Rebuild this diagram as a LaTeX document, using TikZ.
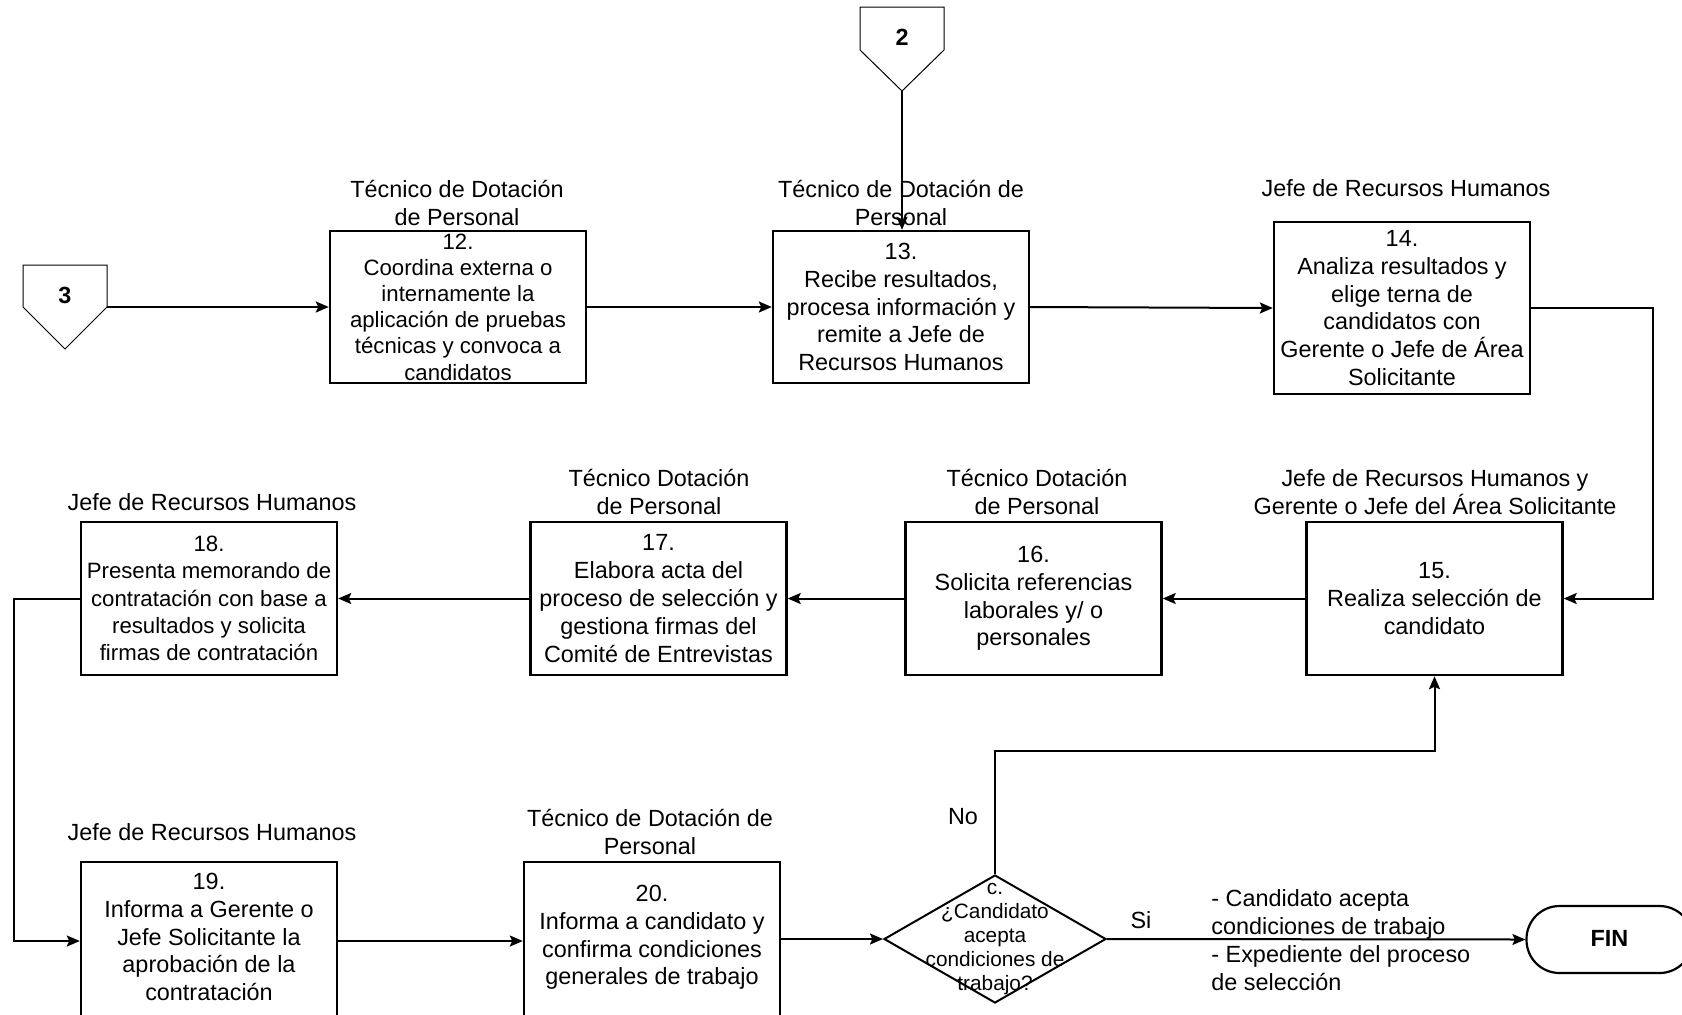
\documentclass[tikz,border=0pt]{standalone}
\usepackage{fontspec}
\setmainfont{Liberation Sans}
\usetikzlibrary{shapes.geometric,arrows.meta,calc}
\begin{document}
\begin{tikzpicture}[x=0.5pt,y=-0.5pt,
  box/.style={draw,line width=1.2pt,minimum width=128pt,minimum height=76.5pt,inner sep=0pt,align=center,
    font=\fontsize{11.7}{13.9}\selectfont},
  boxtext/.style={align=center,inner sep=0pt,font=\fontsize{11.7}{13.9}\selectfont},
  ttl/.style={align=center,inner sep=0pt,font=\fontsize{11.7}{13.9}\selectfont},
  lbl/.style={inner sep=0pt,font=\fontsize{11.7}{13.9}\selectfont},
  conn/.style={draw,line width=0.5pt},
  arr/.style={line width=1pt,-{Stealth[length=6.5pt,width=5.5pt,inset=1.2pt]}},
]
\useasboundingbox (0,0) rectangle (1682,1014);
\clip (0,0) rectangle (1682,1014);

% off-page connectors
\draw[conn] (860,7) -- (944,7) -- (944,50) -- (902,91) -- (860,50) -- cycle;
\node[lbl,font=\fontsize{11.7}{13.9}\selectfont\bfseries] (c2) at (902,37) {2};
\coordinate (c2tip) at (902,91);
\draw[conn] (23,265) -- (107,265) -- (107,307) -- (65,349) -- (23,307) -- cycle;
\node[lbl,font=\fontsize{11.7}{13.9}\selectfont\bfseries] (c3) at (65,295) {3};
\coordinate (c3r) at (107,307);

% titles
\node[ttl] (t12) at (457,203) {Técnico de Dotación\\de Personal};
\node[ttl] (t13) at (901,203) {Técnico de Dotación de\\Personal};
\node[ttl] (t14) at (1406,188) {Jefe de Recursos Humanos};
\node[ttl] (t15) at (1435,492) {Jefe de Recursos Humanos y\\Gerente o Jefe del Área Solicitante};
\node[ttl] (t16) at (1037,492) {Técnico Dotación\\de Personal};
\node[ttl] (t17) at (659,492) {Técnico Dotación\\de Personal};
\node[ttl] (t18) at (212,502) {Jefe de Recursos Humanos};
\node[ttl] (t19) at (212,832) {Jefe de Recursos Humanos};
\node[ttl] (t20) at (650,832) {Técnico de Dotación de\\Personal};

% boxes
\node[box,minimum height=76pt,font=\fontsize{11.1}{13.1}\selectfont] (b12) at (458,307) {12.\\Coordina externa o\\internamente la\\aplicación de pruebas\\técnicas y convoca a\\candidatos};
\node[box,minimum height=76pt] (b13) at (901,307) {13.\\Recibe resultados,\\procesa información y\\remite a Jefe de\\Recursos Humanos};
\node[box,minimum height=86pt] (b14) at (1402,308) {14.\\Analiza resultados y\\elige terna de\\candidatos con\\Gerente o Jefe de Área\\Solicitante};
\node[box] (b15) at (1434.5,598.5) {15.\\Realiza selección de\\candidato};
\node[box] (b16) at (1033.5,598.5) {16.\\Solicita referencias\\laborales y/ o\\personales};
\node[box] (b17) at (658.5,598.5) {17.\\Elabora acta del\\proceso de selección y\\gestiona firmas del\\Comité de Entrevistas};
\node[box,font=\fontsize{11.1}{13.6}\selectfont] (b18) at (209,598.5) {18.\\Presenta memorando de\\contratación con base a\\resultados y solicita\\firmas de contratación};
\node[box,minimum height=79pt] (b19) at (209,941) {};
\node[boxtext] (b19t) at (209,937) {19.\\Informa a Gerente o\\Jefe Solicitante la\\aprobación de la\\contratación};
\node[box,minimum height=79pt] (b20) at (652,941) {};
\node[boxtext] (b20t) at (652,937.5) {20.\\Informa a candidato y\\confirma condiciones\\generales de trabajo};

% decision
\node[draw,line width=1pt,shape=diamond,minimum width=111pt,minimum height=64pt,inner sep=0pt] (dia) at (995,939) {};
\node[align=center,inner sep=0pt,font=\fontsize{10.4}{12}\selectfont] (diat) at (995,939) {c.\\¿Candidato\\acepta\\condiciones de\\trabajo?};

% end
\node[draw,line width=1.1pt,rounded corners=16.5pt,minimum width=83pt,minimum height=33.5pt,inner sep=0pt,
  font=\fontsize{11.7}{13.9}\selectfont\bfseries] (fin) at (1609.5,939.5) {\raisebox{1.2pt}{FIN}};

% labels
\node[lbl] (no) at (963,817) {No};
\node[lbl] (si) at (1141,920) {Si};
\node[lbl,anchor=west,align=left] (out) at (1211,940) {- Candidato acepta\\condiciones de trabajo\\- Expediente del proceso\\de selección};

% connectors
\coordinate (r1) at (1653,308);
\coordinate (l1) at (14,598.5);
\coordinate (n1) at (995,751);
\draw[arr] (c3r) -- (b12.west |- c3r);
\draw[arr] (b12.east) -- (b13.west);
\draw[arr] (b13.east) -- (b14.west);
\draw[arr] (c2tip) -- (c2tip |- b13.north);
\draw[arr] (b14.east) -- (r1) |- (b15.east);
\draw[arr] (b15.west) -- (b16.east);
\draw[arr] (b16.west) -- (b17.east);
\draw[arr] (b17.west) -- (b18.east);
\draw[arr] (b18.west) -- (l1) |- (b19.west);
\draw[arr] (b19.east) -- (b19.east -| b20.west);
\draw[arr] (b20.east |- dia.west) -- (dia.west);
\draw[arr] (dia.north) -- (n1) -| (b15.south);
\draw[arr] (dia.east) -- (fin.west);
\end{tikzpicture}
\end{document}
